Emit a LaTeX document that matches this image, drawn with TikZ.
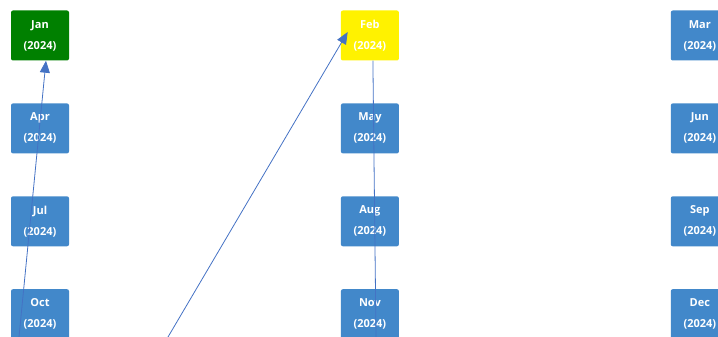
\documentclass[tikz,border=0pt]{standalone}
\usepackage{fontspec}
\setmainfont{Open Sans}
\usetikzlibrary{arrows.meta,positioning}
\definecolor{monthblue}{RGB}{66,136,202}
\definecolor{linkblue}{RGB}{68,114,196}
\definecolor{donegreen}{RGB}{0,128,0}
\tikzset{
  month/.style={rectangle, rounded corners=2pt, fill=monthblue, text=white,
                minimum width=58pt, minimum height=50pt, align=center,
                font=\fontsize{11}{21}\selectfont\bfseries},
  monthgreen/.style={month, fill=donegreen},
  monthyellow/.style={month, fill=yellow},
  link/.style={-{Triangle[length=12pt, width=10pt]}, linkblue, line width=0.8pt},
  plainlink/.style={linkblue, line width=0.8pt},
}

\begin{document}
\begin{tikzpicture}[x=1pt, y=1pt, node distance=42.5pt and 271.5pt]
\useasboundingbox (0,0) rectangle (718,-337);
\clip (0,0) rectangle (718,-337);
\node[monthgreen] (jan) at (40,-35.5) {Jan\\(2024)};
\node[monthyellow, right=of jan] (feb) {Feb\\(2024)};
\node[month, right=of feb] (mar) {Mar\\(2024)};
\node[month, below=of jan] (apr) {Apr\\(2024)};
\node[month, below=of feb] (may) {May\\(2024)};
\node[month, below=of mar] (jun) {Jun\\(2024)};
\node[month, below=of apr] (jul) {Jul\\(2024)};
\node[month, below=of may] (aug) {Aug\\(2024)};
\node[month, below=of jun] (sep) {Sep\\(2024)};
\node[month, below=of jul] (oct) {Oct\\(2024)};
\node[month, below=of aug] (nov) {Nov\\(2024)};
\node[month, below=of sep] (dec) {Dec\\(2024)};
% links that run off the lower edge
\coordinate (inJan) at (19,-337);
\coordinate (inFeb) at (168,-337);
\coordinate (outFeb) at (376,-337);
\draw[link] (inJan) -- ([xshift=6pt]jan.south);
\draw[link] (inFeb) -- ([xshift=7pt, yshift=3.5pt]feb.west);
\draw[plainlink] ([xshift=3pt]feb.south) -- (outFeb);
\end{tikzpicture}
\end{document}
